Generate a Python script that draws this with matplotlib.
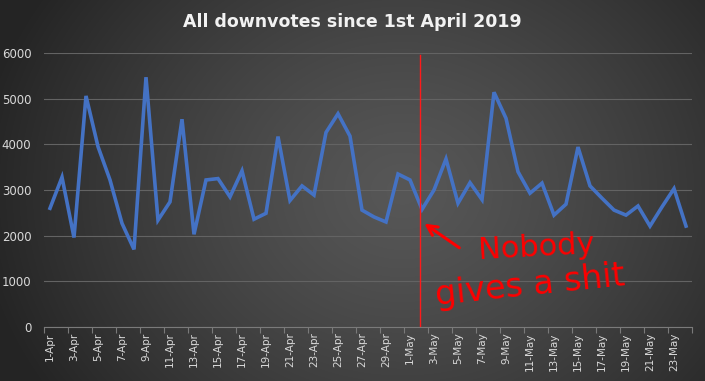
import numpy as np
import matplotlib
matplotlib.use("Agg")
import matplotlib.pyplot as plt
import datetime as dt

# ---- data ----
start = dt.date(2019, 4, 1)
downvotes = [2600, 3280, 1960, 5060, 3950, 3220, 2270, 1700, 5470, 2340,
             2740, 4550, 2030, 3220, 3250, 2850, 3420, 2360, 2490, 4170,
             2770, 3090, 2890, 4260, 4670, 4180, 2560, 2410, 2300, 3350,
             3220, 2575, 3000, 3680, 2710, 3160, 2790, 5140, 4570, 3400,
             2930, 3150, 2450, 2690, 3940, 3090, 2820, 2560, 2450, 2650,
             2210, 2630, 3030, 2210]
dates = [start + dt.timedelta(days=i) for i in range(len(downvotes))]
labels = [f"{d.day}-{d.strftime('%b')}" for d in dates]
title = "All downvotes since 1st April 2019"
annotation_lines = ["Nobody", "gives a shit"]
marker_day = 30.83  # position of the red vertical line (just before 2-May)
yticks = [0, 1000, 2000, 3000, 4000, 5000, 6000]

W, H = 705, 381
fig = plt.figure(figsize=(W / 100, H / 100), dpi=100)

# radial gradient background
bg = fig.add_axes([0, 0, 1, 1], zorder=-10)
yy, xx = np.mgrid[0:H, 0:W]
cx, cy = W * 0.57, H * 0.5
r = np.sqrt(((xx - cx) / (W * 0.6)) ** 2 + ((yy - cy) / (H * 0.95)) ** 2)
r = np.clip(r, 0, 1)
val = 0.34 - (0.34 - 0.145) * r ** 1.3
img = np.dstack([val, val, val])
bg.imshow(img, aspect="auto", extent=[0, 1, 0, 1])
bg.axis("off")

L, R, B, T = 44 / W, 692 / W, 1 - 327 / H, 1 - 53 / H
ax = fig.add_axes([L, B, R - L, T - B])
ax.patch.set_alpha(0)

x = np.arange(len(downvotes))
ax.plot(x, downvotes, color="#4472C4", lw=2.6, solid_joinstyle="miter", zorder=3)

ax.set_xlim(-0.5, len(downvotes) - 0.5)
ax.set_ylim(0, 6000)
ax.set_yticks(yticks)
ax.set_yticklabels([str(v) for v in yticks], color="#d9d9d9", fontsize=8.5,
                   family="DejaVu Sans")
ax.grid(axis="y", color="#636363", lw=0.8)
ax.set_axisbelow(True)
ax.tick_params(axis="y", length=0, pad=9)

ax.set_xticks(x[::2])
ax.set_xticklabels(labels[::2], rotation=90, color="#d9d9d9", fontsize=7.5)
ax.set_xticks(np.arange(-0.5, len(downvotes), 2), minor=True)
ax.tick_params(axis="x", which="major", length=0, pad=4)
ax.tick_params(axis="x", which="minor", length=4, color="#7a7a7a", width=0.8)

for s in ["top", "right", "left"]:
    ax.spines[s].set_visible(False)
ax.spines["bottom"].set_color("#7a7a7a")
ax.spines["bottom"].set_linewidth(0.8)

# red marker line
ax.plot([marker_day, marker_day], [0, 5950], color="#ff1a1a", lw=1.0, zorder=4)

# annotation
ax.annotate("", xy=(31.0, 2300), xytext=(34.3, 1700),
            arrowprops=dict(arrowstyle="->", color="#ff0000", lw=2.2,
                            mutation_scale=18))
ax.text(40.5, 1750, annotation_lines[0], color="#ff0000", fontsize=22,
        ha="center", va="center", rotation=3, family="DejaVu Sans")
ax.text(40.0, 900, annotation_lines[1], color="#ff0000", fontsize=24,
        ha="center", va="center", rotation=6, family="DejaVu Sans")

fig.text(352 / W, 1 - 22 / H, title, color="#f2f2f2", fontsize=12.5,
         fontweight="bold", ha="center", va="center", family="DejaVu Sans")

fig.savefig("out.png", dpi=100)
